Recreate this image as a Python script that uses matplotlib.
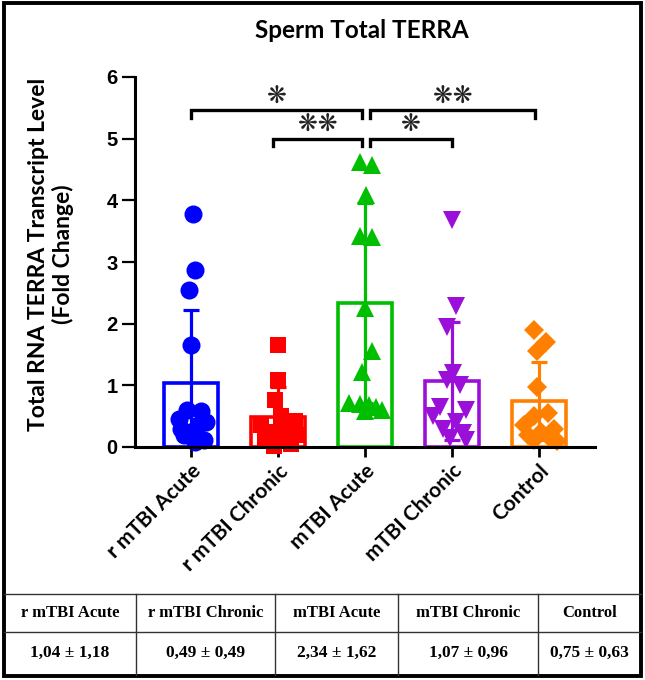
import matplotlib
matplotlib.use("Agg")
import matplotlib.pyplot as plt
from matplotlib.lines import Line2D
from matplotlib.patches import Rectangle
import numpy as np

# ---------------- data ----------------
groups = ["r mTBI Acute", "r mTBI Chronic", "mTBI Acute", "mTBI Chronic", "Control"]
means = [1.04, 0.49, 2.34, 1.07, 0.75]
sds = [1.18, 0.49, 1.62, 0.96, 0.63]
table_values = ["1,04 ± 1,18", "0,49 ± 0,49", "2,34 ± 1,62", "1,07 ± 0,96", "0,75 ± 0,63"]

pts_r_acute = [3.78, 2.87, 2.55, 1.65, 0.60, 0.58, 0.45, 0.40, 0.35, 0.30, 0.25, 0.20, 0.12, 0.08]
pts_r_chronic = [1.65, 1.08, 0.76, 0.50, 0.42, 0.35, 0.30, 0.25, 0.20, 0.15, 0.10, 0.05, 0.02]
pts_acute = [4.62, 4.57, 4.08, 3.42, 3.40, 2.25, 1.55, 1.22, 0.72, 0.70, 0.68, 0.65, 0.60, 0.58]
pts_chronic = [3.68, 2.28, 1.95, 1.20, 1.08, 1.00, 0.65, 0.60, 0.50, 0.40, 0.30, 0.22, 0.15, 0.12]
pts_control = [1.90, 1.70, 1.55, 0.98, 0.55, 0.50, 0.35, 0.30, 0.25, 0.20, 0.15, 0.12, 0.10]
points = [pts_r_acute, pts_r_chronic, pts_acute, pts_chronic, pts_control]

# horizontal scatter offsets (layout)
jit = [
    [0.02, 0.05, -0.02, 0.0, -0.05, 0.12, -0.14, 0.17, 0.08, -0.12, 0.0, -0.08, 0.15, 0.05],
    [0.0, 0.0, -0.03, 0.04, 0.2, -0.2, 0.12, -0.08, 0.22, -0.15, 0.08, 0.15, -0.05],
    [-0.06, 0.08, 0.015, -0.06, 0.08, 0.0, 0.08, -0.04, -0.18, -0.06, 0.05, 0.13, 0.2, 0.0],
    [0.0, 0.05, -0.06, 0.01, -0.06, 0.09, -0.14, 0.16, -0.22, 0.05, -0.1, 0.13, -0.02, 0.16],
    [-0.06, 0.08, -0.02, -0.02, 0.1, -0.06, -0.17, 0.17, 0.02, -0.13, 0.13, -0.06, 0.21],
]

# significance comparisons: (from, to, label, level)
comparisons = [(0, 2, "❋", 5.46), (2, 4, "❋❋", 5.46), (1, 2, "❋❋", 5.0), (2, 3, "❋", 5.0)]

colors = ["#0000FF", "#FF0000", "#00BE00", "#9B10D8", "#FF8000"]
markers = ["o", "s", "^", "v", "D"]
msizes = [13, 12, 13, 13, 10.5]

# ---------------- figure ----------------
W, H = 645, 680
fig = plt.figure(figsize=(W / 100, H / 100), dpi=100)

def fx(px):
    return px / W

def fy(py):
    return 1 - py / H

ax_l, ax_r, ax_t, ax_b = 135, 595, 77, 447
ax = fig.add_axes([fx(ax_l), fy(ax_b), fx(ax_r - ax_l), (ax_b - ax_t) / H])

x = np.arange(len(groups))
bw = 0.63
ax.bar(x, means, width=bw, facecolor="none", edgecolor=colors, linewidth=2.6, zorder=2)
for i in range(len(groups)):
    lower = min(sds[i], means[i])
    ax.errorbar(x[i], means[i], yerr=[[lower], [sds[i]]], color=colors[i],
                elinewidth=2.3, capsize=6, capthick=2.3, fmt="none", zorder=3)
    xs = x[i] + np.array(jit[i])
    ax.plot(xs, points[i], linestyle="none", marker=markers[i], color=colors[i],
            markersize=msizes[i], markeredgewidth=0, zorder=4, clip_on=False)

ax.set_xlim(-0.644, 4.644)
ax.set_ylim(0, 6)
ax.set_yticks(range(0, 7))
ax.set_yticklabels([str(v) for v in range(0, 7)], fontfamily="Liberation Sans",
                   fontweight="bold", fontsize=14.5)
ax.set_xticks(x)
ax.set_xticklabels(groups, rotation=45, ha="right", rotation_mode="anchor",
                   fontfamily="Lato", fontweight="bold", fontsize=15)
ax.tick_params(axis="y", length=9.5, width=1.6, pad=3)
ax.tick_params(axis="x", length=7, width=2, pad=3)
for s in ["top", "right"]:
    ax.spines[s].set_visible(False)
for s in ["left", "bottom"]:
    ax.spines[s].set_linewidth(2.2)
ax.spines["bottom"].set_zorder(5)

# significance brackets
for (i, j, lab, lev) in comparisons:
    a = i + (0.06 if i == 2 else 0.0) - (0.06 if i == 1 else 0.0)
    b = j - (0.03 if j == 2 else 0.0) - (0.04 if j == 4 else 0.0)
    leg = 0.12
    ax.plot([a, a, b, b], [lev - leg, lev, lev, lev - leg], color="black",
            linewidth=2.4, clip_on=False, solid_joinstyle="miter", zorder=5)
    ax.text((a + b) / 2, lev + 0.04, lab, ha="center", va="bottom", fontsize=17,
            fontfamily="DejaVu Sans", color="#222222")

# title and y label
fig.text(fx(362), fy(30), "Sperm Total TERRA", ha="center", va="center",
         fontfamily="Lato", fontweight="bold", fontsize=17.5)
fig.text(fx(51), fy(254), "Total RNA TERRA Transcript Level\n(Fold Change)",
         rotation=90, ha="center", va="center", multialignment="center",
         fontfamily="Lato", fontweight="bold", fontsize=16.5, linespacing=1.2)

# outer border
fig.patches.append(Rectangle((fx(4), fy(676)), fx(637), (676 - 3) / H, transform=fig.transFigure,
                             fill=False, edgecolor="black", linewidth=2.8))

# table
tl = dict(color="#333333", linewidth=1.0, transform=fig.transFigure)
fig.add_artist(Line2D([fx(4), fx(641)], [fy(594), fy(594)], **tl))
fig.add_artist(Line2D([fx(4), fx(641)], [fy(632), fy(632)], **tl))
col_edges = [4, 136, 275, 398, 538, 641]
for cx in col_edges[1:-1]:
    fig.add_artist(Line2D([fx(cx), fx(cx)], [fy(594), fy(675)], **tl))
for k in range(len(groups)):
    cxm = (col_edges[k] + col_edges[k + 1]) / 2
    fig.text(fx(cxm), fy(613), groups[k], ha="center", va="center",
             fontfamily="Liberation Serif", fontweight="bold", fontsize=12)
    fig.text(fx(cxm), fy(653), table_values[k], ha="center", va="center",
             fontfamily="Liberation Serif", fontweight="bold", fontsize=12.5)

fig.savefig("out.png", dpi=100)
